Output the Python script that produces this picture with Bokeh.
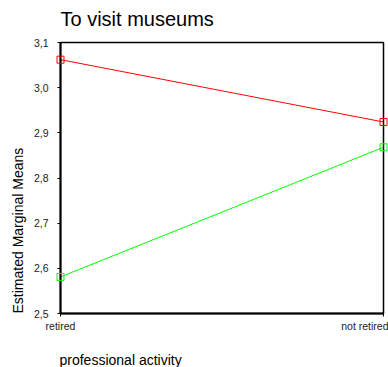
from bokeh.plotting import figure
from bokeh.models import FixedTicker, Range1d, Title
from bokeh.core.properties import value
from bokeh.embed import file_html
from bokeh.resources import INLINE

# ---- data ----
categories = ["retired", "not retired"]
series_a = [3.062, 2.924]   # red
series_b = [2.581, 2.868]   # green
y_ticks = [2.5, 2.6, 2.7, 2.8, 2.9, 3.0, 3.1]
y_tick_labels = ["2,5", "2,6", "2,7", "2,8", "2,9", "3,0", "3,1"]
title_text = "To visit museums"
x_label = "professional activity"
y_label = "Estimated Marginal Means"

FONT = "Liberation Sans"
x_pos = list(range(len(categories)))
Y0, Y1 = y_ticks[0], y_ticks[-1]

p = figure(width=388, height=367, output_backend="svg", toolbar_location=None,
           x_range=Range1d(0, len(categories) - 1), y_range=Range1d(Y0, Y1),
           min_border_left=60, min_border_right=5, min_border_top=42, min_border_bottom=54)

p.xgrid.visible = False
p.ygrid.visible = False
p.outline_line_color = "black"
p.outline_line_width = 1.5
p.background_fill_color = "white"
p.border_fill_color = "white"

# axes
p.xaxis.ticker = FixedTicker(ticks=x_pos)
p.xaxis.major_label_overrides = {i: c for i, c in zip(x_pos, categories)}
p.yaxis.ticker = FixedTicker(ticks=y_ticks)
p.yaxis.major_label_overrides = {t: l for t, l in zip(y_ticks, y_tick_labels)}
for ax in (p.xaxis, p.yaxis):
    ax.axis_line_color = "black"
    ax.axis_line_width = 2
    ax.major_tick_line_color = "black"
    ax.major_tick_in = 0
    ax.major_tick_out = 3
    ax.minor_tick_line_color = None
    ax.major_label_text_font = FONT
    ax.major_label_text_font_size = "10.5px"
    ax.major_label_text_color = "#222222"
p.yaxis.major_label_standoff = 9
p.xaxis.major_label_standoff = 3

p.add_layout(Title(text=y_label, align="left", text_font=FONT, text_font_size="14px",
                   text_font_style="normal", text_color="black", standoff=9), "left")

# chart title (top-left, above the frame) and x-axis title (bottom-left, below the axis)
p.text(x=[x_pos[0]], y=[Y1], text=[title_text], text_font=value(FONT),
       text_font_size="20px", text_color="black", text_align="left",
       text_baseline="middle", x_offset=0, y_offset=-24, level="overlay")
p.text(x=[x_pos[0]], y=[Y0], text=[x_label], text_font=value(FONT),
       text_font_size="14px", text_color="black", text_align="left",
       text_baseline="middle", x_offset=-1, y_offset=46, level="overlay")

# series
p.line(x_pos, series_a, line_color="#ff0000", line_width=1)
p.scatter(x_pos, series_a, marker="square", size=7, fill_color=None,
          line_color="#ff0000", line_width=1, level="overlay")
p.line(x_pos, series_b, line_color="#00ff00", line_width=1)
p.scatter(x_pos, series_b, marker="square", size=7, fill_color=None,
          line_color="#00ff00", line_width=1, level="overlay")

open("out.html", "w").write(file_html(p, INLINE))
